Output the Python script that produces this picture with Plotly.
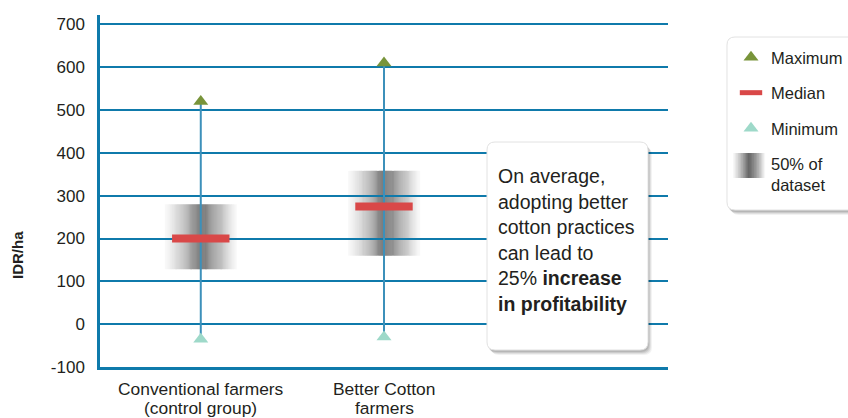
import plotly.graph_objects as go

# ---------------- data ----------------
categories = ["Conventional farmers<br>(control group)", "Better Cotton<br>farmers"]
maximum = [520, 610]
median = [200, 275]
minimum = [-35, -30]
q1 = [128, 160]          # lower edge of the 50% band
q3 = [280, 358]          # upper edge of the 50% band
y_ticks = [-100, 0, 100, 200, 300, 400, 500, 600, 700]
y_ticktext = ["-100", "0", "100", "200", "300", "400", "500", "600", "700"]
y_title = "IDR/ha"
legend_labels = ["Maximum", "Median", "Minimum", "50% of<br>dataset"]
note_lines = ["On average,", "adopting better", "cotton practices", "can lead to",
              "25% <b>increase</b>", "<b>in profitability</b>"]

# ---------------- style ----------------
FONT = "Liberation Sans, Arial, sans-serif"
TXT = "#231f20"
GRID = "#0f7aab"
WHISK = "#3c90ba"
C_MAX = "#78943a"
C_MIN = "#9ed9c9"
C_MED = "#d94848"
# horizontal shading profile of the 50% band (0 = white, 1 = dark), left -> right
shade_stops = [0.03, 0.08, 0.14, 0.21, 0.29, 0.38, 0.48, 0.6, 0.75, 0.95,
               0.9, 0.78, 0.68, 0.58, 0.48, 0.38, 0.28, 0.18, 0.09, 0.03]
BOX_HALF = 0.197
STEPS_PER_STOP = 4
SHADE_RGB = (60, 60, 60)
SHADE_ALPHA = 0.72

W, H = 848, 418
ML, MR, MT, MB = 100, 180, 15, 51
PW, PH = W - ML - MR, H - MT - MB


def px_x(px):
    return (px - ML) / PW


def px_y(py):
    return (H - MB - py) / PH


def rrect(x0, y0, x1, y1, r):
    pts = [("M", x0 + r, y0), ("L", x1 - r, y0), ("Q", x1, y0, x1, y0 + r),
           ("L", x1, y1 - r), ("Q", x1, y1, x1 - r, y1), ("L", x0 + r, y1),
           ("Q", x0, y1, x0, y1 - r), ("L", x0, y0 + r), ("Q", x0, y0, x0 + r, y0)]
    s = ""
    for p in pts:
        coords = p[1:]
        parts = [f"{px_x(coords[i]):.5f},{px_y(coords[i + 1]):.5f}" for i in range(0, len(coords), 2)]
        s += p[0] + " " + " ".join(parts) + " "
    return s + "Z"


def shade_color(s):
    return f"rgba({SHADE_RGB[0]},{SHADE_RGB[1]},{SHADE_RGB[2]},{SHADE_ALPHA * s:.3f})"


# finer shading for a smooth look (linear blend between the stops)
shade = []
for a, b in zip(shade_stops[:-1], shade_stops[1:]):
    for k in range(STEPS_PER_STOP):
        shade.append(a + (b - a) * k / STEPS_PER_STOP)
shade.append(shade_stops[-1])
ns = len(shade)

xs = list(range(len(categories)))
fig = go.Figure()

shapes = []
# 50% bands: gradient strips placed in data coordinates, under the grid lines
for i, c in enumerate(xs):
    for k, s in enumerate(shade):
        a0 = c - BOX_HALF + 2 * BOX_HALF * k / ns
        a1 = c - BOX_HALF + 2 * BOX_HALF * (k + 1) / ns
        shapes.append(dict(type="rect", xref="x", yref="y", layer="below",
                           x0=a0, x1=a1 + 0.001, y0=q1[i], y1=q3[i],
                           fillcolor=shade_color(s), line=dict(width=0)))

# whiskers
wx, wy = [], []
for i, c in enumerate(xs):
    wx += [c, c, None]
    wy += [minimum[i], maximum[i], None]
fig.add_trace(go.Scatter(x=wx, y=wy, mode="lines", line=dict(color=WHISK, width=2),
                         showlegend=False, hoverinfo="skip"))

fig.add_trace(go.Scatter(x=xs, y=median, mode="markers", name=legend_labels[1], legendrank=2,
                         legendgroup="b",
                         marker=dict(symbol="line-ew", size=41, color=C_MED,
                                     line=dict(color=C_MED, width=8))))
fig.add_trace(go.Scatter(x=xs, y=maximum, mode="markers", name=legend_labels[0], legendrank=1,
                         legendgroup="a",
                         marker=dict(symbol="triangle-up", size=13, color=C_MAX)))
fig.add_trace(go.Scatter(x=xs, y=minimum, mode="markers", name=legend_labels[2], legendrank=3,
                         legendgroup="c",
                         marker=dict(symbol="triangle-up", size=13, color=C_MIN)))
# legend entry for the 50% band (its swatch is painted with shapes below)
fig.add_trace(go.Scatter(x=[None], y=[None], mode="markers", name=legend_labels[3], legendrank=4,
                         legendgroup="d",
                         marker=dict(symbol="square", size=16, color="rgba(0,0,0,0)")))

# shadows + boxes (note box and legend box)
for (x0, y0, x1, y1) in [(487, 142, 648, 350), (727, 37, 862, 210)]:
    for k, a in [(5, 0.05), (4, 0.07), (3, 0.09), (2, 0.1)]:
        shapes.append(dict(type="path", xref="paper", yref="paper", layer="above",
                           path=rrect(x0 + k - 1, y0 + k, x1 + k - 1, y1 + k, 8),
                           fillcolor=f"rgba(0,0,0,{a})", line=dict(width=0)))
    shapes.append(dict(type="path", xref="paper", yref="paper", layer="above",
                       path=rrect(x0, y0, x1, y1, 8),
                       fillcolor="white", line=dict(color="#e2e2e2", width=1)))

# legend swatch for the 50% band: same shading profile, drawn as thin strips
sw_x0, sw_x1, sw_y0, sw_y1 = 733, 765, 153, 178
for k, s in enumerate(shade):
    a0 = sw_x0 + (sw_x1 - sw_x0) * k / ns
    a1 = sw_x0 + (sw_x1 - sw_x0) * (k + 1) / ns
    shapes.append(dict(type="rect", xref="paper", yref="paper", layer="above",
                       x0=px_x(a0), x1=px_x(a1) + 0.0005, y0=px_y(sw_y1), y1=px_y(sw_y0),
                       fillcolor=shade_color(s), line=dict(width=0)))

annotations = []
# note text
line_centers = [176, 201.5, 227, 252.5, 278, 303.5]
for t, yc in zip(note_lines, line_centers):
    annotations.append(dict(text=t, xref="paper", yref="paper", x=px_x(496), y=px_y(yc),
                            xanchor="left", yanchor="middle", showarrow=False,
                            font=dict(family=FONT, size=19.5, color=TXT)))
# category labels
for i, c in enumerate(xs):
    for j, part in enumerate(categories[i].split("<br>")):
        annotations.append(dict(text=part, xref="x", yref="paper", x=c, y=px_y(389 + j * 18.5),
                                xanchor="center", yanchor="middle", showarrow=False,
                                font=dict(family=FONT, size=17.4, color=TXT)))
# y title
annotations.append(dict(text=f"<b>{y_title}</b>", xref="paper", yref="paper", x=px_x(17), y=px_y(255),
                        xanchor="center", yanchor="middle", textangle=-90, showarrow=False,
                        font=dict(family=FONT, size=15, color=TXT)))

fig.update_layout(
    width=W, height=H,
    margin=dict(l=ML, r=MR, t=MT, b=MB, autoexpand=False),
    paper_bgcolor="white", plot_bgcolor="white",
    showlegend=True,
    legend=dict(x=px_x(731), y=px_y(40), xanchor="left", yanchor="top",
                bgcolor="rgba(0,0,0,0)", borderwidth=0,
                font=dict(family=FONT, size=16.5, color=TXT),
                itemsizing="trace", traceorder="grouped", tracegroupgap=11),
    shapes=shapes,
    annotations=annotations,
    xaxis=dict(range=[-0.55, 2.55], showgrid=False, zeroline=False, showticklabels=False,
               showline=True, linecolor=GRID, linewidth=2.5, fixedrange=True, automargin=False),
    yaxis=dict(range=[-100, 722], tickvals=y_ticks, ticktext=y_ticktext,
               showgrid=True, gridcolor=GRID, gridwidth=2,
               zeroline=False, showline=True, linecolor=GRID, linewidth=2.5,
               ticks="", ticklabelstandoff=9, automargin=False,
               tickfont=dict(family=FONT, size=17, color=TXT), fixedrange=True),
)

fig.write_html("out.html", config={"displayModeBar": False},
               post_script="document.body.style.margin='0';")
